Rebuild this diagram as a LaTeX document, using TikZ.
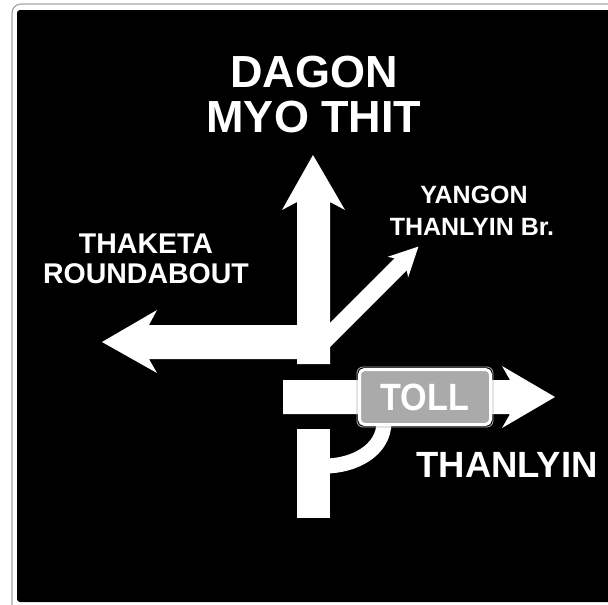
\documentclass[tikz,border=0pt]{standalone}
\usepackage{fontspec}
\setmainfont{Liberation Sans}
\definecolor{tollgray}{RGB}{170,170,170}
\begin{document}
\begin{tikzpicture}[x=1pt,y=-1pt,
    every node/.style={text=white,inner sep=0pt},
    road/.style={fill=white},
    place/.style={anchor=base,font=\bfseries\fontsize{#1}{#1}\selectfont},
    tollbox/.style={draw=white,line width=3pt,fill=tollgray,rounded corners=5pt,
        minimum width=131pt,minimum height=55pt,text depth=0pt}]
\useasboundingbox (0,0) rectangle (608,605);
\clip (0,0) rectangle (608,605);
\fill [white] (0,0) rectangle (608,605);
\draw [gray!70,line width=1.2pt,rounded corners=9pt] (12,4) rectangle (650,650);
\fill [black,rounded corners=3pt] (17,10) rectangle (650,602);
% roads
\path [road] (297,364) -- (297,202) -- (282,210) -- (313,155) -- (345,210) -- (330,202) -- (330,364) -- cycle;
\path [road] (300,325) -- (149,325) -- (157,310) -- (102,342) -- (157,373) -- (149,359) -- (300,359) -- cycle;
\begin{scope}[shift={(330,335)},rotate=45]
    \path [road] (-15,-8.5) -- (100,-8.5) -- (96,-14.5) -- (125,0) -- (96,14.5) -- (100,8.5) -- (-15,8.5) -- cycle;
\end{scope}
\path [road] (297,429) rectangle (330,518);
\draw [white,line width=15pt] (325,466) to [out=0,in=-90] (384,422);
\path [road] (283,380) -- (510,380) -- (502,366) -- (555,397) -- (502,428) -- (510,414) -- (283,414) -- cycle;
\draw [gray!60,line width=0.8pt,rounded corners=6pt] (357,367) rectangle (493,427);
\node (toll) [tollbox,font=\bfseries\fontsize{38}{38}\selectfont] at (425,397) {\scalebox{0.9}[1]{TOLL}};
% names
\node (dagon) [place=45] at (314,87) {DAGON};
\node (myothit) [place=45] at (314,132) {MYO THIT};
\node (thaketa) [place=28.5] at (146,253) {THAKETA};
\node (roundabout) [place=28.5] at (146,283) {ROUNDABOUT};
\node (yangon) [place=25] at (474,203) {YANGON};
\node (bridge) [place=25] at (472,235) {THANLYIN Br.};
\node (thanlyin) [place=36.5] at (507,477) {THANLYIN};
\end{tikzpicture}
\end{document}
